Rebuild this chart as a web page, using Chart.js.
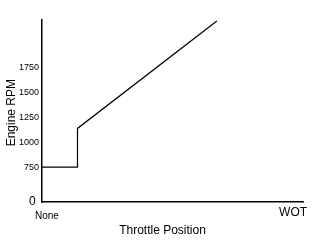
<!DOCTYPE html>
<html>
<head>
<meta charset="utf-8">
<script src="https://cdn.jsdelivr.net/npm/chart.js@4.4.1/dist/chart.umd.min.js"></script>
<style>
html,body{margin:0;padding:0;background:#fff;}
#wrap{width:320px;height:240px;position:relative;}
</style>
</head>
<body>
<div id="wrap"><canvas id="c" width="320" height="240"></canvas></div>
<script>
// Data
const throttle = [0, 13.6, 13.6, 67];          // % throttle (None = 0, WOT = 100)
const rpm = [750, 750, 1140, 2220];            // engine RPM
// Axis ticks (y axis is broken: bottom of axis is labelled 0)
const axisFloor = 400;
const axisTop = 2230;
const yTickValues = [axisFloor, 750, 1000, 1250, 1500, 1750];
const yTickLabels = ['0 ', '750', '1000', '1250', '1500', '1750'];
const xTickValues = [1.9, 96.2];
const xTickLabels = ['None', 'WOT'];

const points = throttle.map((t, i) => ({x: t, y: rpm[i]}));
const FONT = 'Liberation Sans, Arial, Helvetica, sans-serif';

new Chart(document.getElementById('c'), {
  type: 'line',
  data: {
    datasets: [{
      data: points,
      borderColor: '#000',
      borderWidth: 1.2,
      pointRadius: 0,
      tension: 0,
      fill: false
    }]
  },
  options: {
    responsive: false,
    animation: false,
    events: [],
    layout: {padding: {top: 20, right: 17, left: 0, bottom: 0}},
    plugins: {legend: {display: false}, tooltip: {enabled: false}},
    scales: {
      x: {
        type: 'linear',
        min: 0,
        max: 100,
        afterBuildTicks: s => { s.ticks = xTickValues.map(v => ({value: v})); },
        afterFit: s => { s.height = 38; },
        grid: {display: false, drawTicks: false},
        border: {display: true, color: '#000', width: 1.5},
        ticks: {
          padding: 0,
          maxRotation: 0,
          autoSkip: false,
          color: '#000',
          callback: (v, i) => xTickLabels[i],
          font: ctx => ctx.index === 0
            ? {family: FONT, size: 10, lineHeight: 2.8}
            : {family: FONT, size: 12, lineHeight: 1.833}
        },
        title: {
          display: true,
          text: 'Throttle Position      ',
          color: '#000',
          font: {family: FONT, size: 12},
          padding: {top: 2, bottom: 2}
        }
      },
      y: {
        type: 'linear',
        min: axisFloor,
        max: axisTop,
        afterBuildTicks: s => { s.ticks = yTickValues.map(v => ({value: v})); },
        afterFit: s => { s.width = 42; },
        grid: {display: false, drawTicks: false},
        border: {display: true, color: '#000', width: 1.5},
        ticks: {
          padding: 3,
          autoSkip: false,
          color: '#000',
          callback: (v, i) => yTickLabels[i],
          font: ctx => ctx.index === 0
            ? {family: FONT, size: 12}
            : {family: FONT, size: 9}
        },
        title: {
          display: true,
          text: 'Engine RPM ',
          color: '#000',
          font: {family: FONT, size: 12},
          padding: {top: 4, bottom: 4}
        }
      }
    }
  }
});
</script>
</body>
</html>
